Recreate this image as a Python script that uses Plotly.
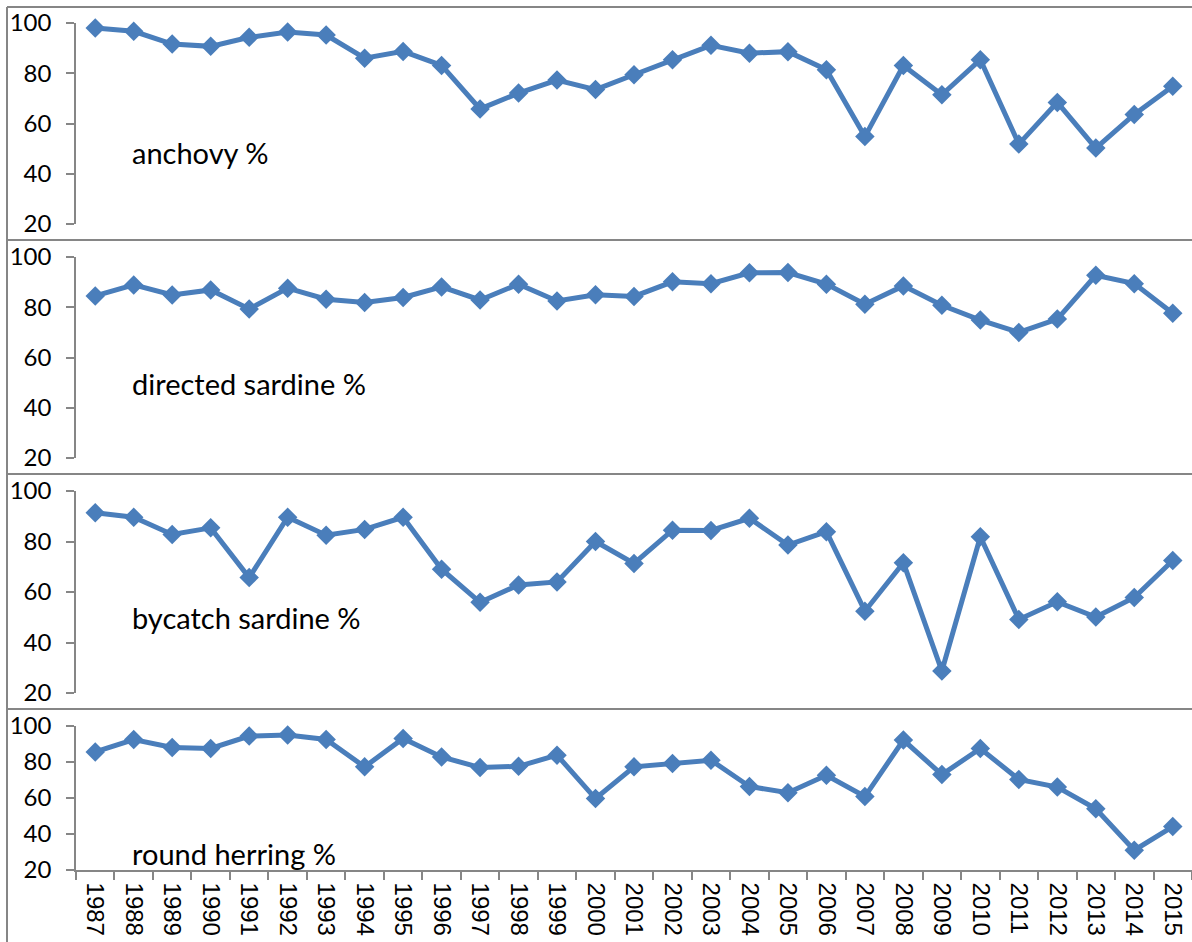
import plotly.graph_objects as go

years = [str(y) for y in range(1987, 2016)]

anchovy = [98.0, 96.7, 91.6, 90.7, 94.3, 96.4, 95.2, 86.0, 88.7, 83.1, 65.8, 72.1, 77.3, 73.5,
           79.4, 85.4, 91.1, 88.0, 88.6, 81.4, 54.8, 83.1, 71.4, 85.4, 51.8, 68.4, 50.2, 63.6, 74.8]
directed_sardine = [84.5, 88.9, 84.9, 86.9, 79.3, 87.6, 83.2, 81.9, 83.9, 88.1, 82.9, 89.2, 82.5, 85.0,
                    84.3, 90.1, 89.4, 93.7, 93.8, 89.2, 81.2, 88.5, 80.8, 74.9, 70.0, 75.3, 92.7, 89.4, 77.6]
bycatch_sardine = [91.4, 89.6, 82.8, 85.4, 65.7, 89.6, 82.5, 84.8, 89.6, 69.0, 55.9, 62.8, 64.0, 80.0,
                   71.3, 84.5, 84.4, 89.2, 78.6, 83.9, 52.4, 71.6, 28.7, 81.9, 49.1, 56.1, 50.1, 57.8, 72.5]
round_herring = [85.6, 92.5, 88.1, 87.5, 94.4, 95.0, 92.5, 77.3, 93.1, 82.8, 76.9, 77.6, 83.8, 59.7,
                 77.3, 79.1, 81.0, 66.4, 62.9, 72.6, 60.8, 92.2, 73.0, 87.5, 70.3, 66.1, 54.0, 31.0, 44.1]

series = [anchovy, directed_sardine, bycatch_sardine, round_herring]
labels = ["anchovy %", "directed sardine %", "bycatch sardine %", "round herring %"]
y_ticks = [20, 40, 60, 80, 100]

W, H = 1192, 942
plot_px = [(23, 224), (257, 458), (491, 693), (726, 870)]
label_y = [48.6, 49.8, 50.0, 29.4]
panel_lines_px = [7, 240, 474, 709]
x0_px, x1_px = 76, 1192

LINE = "#4A7EBB"
GREY = "#868686"
FONT = "Lato, Noto Sans"


def px_x(p):
    return p / W


def px_y(p):
    return 1 - p / H


fig = go.Figure()
for i, (vals, lab) in enumerate(zip(series, labels)):
    n = i + 1
    xa = "x" if n == 1 else f"x{n}"
    ya = "y" if n == 1 else f"y{n}"
    fig.add_trace(go.Scatter(
        x=years, y=vals, xaxis=xa, yaxis=ya, mode="lines+markers",
        line=dict(color=LINE, width=5),
        marker=dict(symbol="diamond", size=15, color=LINE),
        showlegend=False, hoverinfo="x+y", cliponaxis=False))
    top, bot = plot_px[i]
    xkey = "xaxis" if n == 1 else f"xaxis{n}"
    ykey = "yaxis" if n == 1 else f"yaxis{n}"
    last = (n == 4)
    fig.update_layout(**{
        xkey: dict(domain=[px_x(x0_px), px_x(x1_px)], anchor=ya, type="category",
                   categoryorder="array", categoryarray=years, automargin=False,
                   range=[-0.5, 28.5], showgrid=False, zeroline=False,
                   showline=last, linecolor=GREY, linewidth=1.5,
                   ticks="outside" if last else "", tickson="boundaries",
                   ticklen=8, tickcolor=GREY, tickwidth=1.5, ticklabelstandoff=6,
                   showticklabels=last, tickangle=90,
                   tickfont=dict(family="Liberation Sans, Arial", size=24, color="black")),
        ykey: dict(domain=[px_y(bot), px_y(top)], anchor=xa, range=[20, 100], tickvals=y_ticks,
                   automargin=False, showgrid=False, zeroline=False, showline=True,
                   linecolor=GREY, linewidth=1.5, ticks="outside", ticklen=8,
                   tickcolor=GREY, tickwidth=1.5, ticklabelstandoff=10,
                   tickfont=dict(family=FONT, size=24, color="black")),
    })
    fig.add_annotation(text=lab, xref="paper", x=px_x(130), xanchor="left",
                       yref=ya, y=label_y[i], yanchor="middle", showarrow=False,
                       font=dict(family=FONT, size=29, color="black"))

# panel borders
for py in panel_lines_px:
    fig.add_shape(type="line", xref="paper", yref="paper",
                  x0=px_x(7), x1=1.0, y0=px_y(py), y1=px_y(py),
                  line=dict(color=GREY, width=2))
fig.add_shape(type="line", xref="paper", yref="paper",
              x0=px_x(7), x1=px_x(7), y0=0, y1=px_y(7),
              line=dict(color=GREY, width=2))

fig.update_layout(width=W, height=H,
                  margin=dict(l=0, r=0, t=0, b=0, pad=0, autoexpand=False),
                  paper_bgcolor="white", plot_bgcolor="white")

fig.write_html("out.html", config={"displayModeBar": False},
               post_script="document.body.style.margin='0';document.body.style.overflow='hidden';")
